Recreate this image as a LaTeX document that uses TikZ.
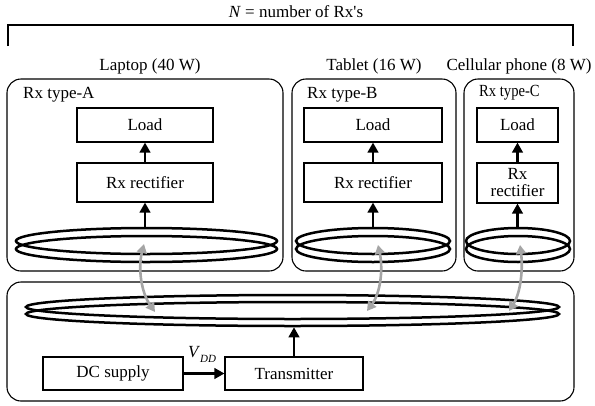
\documentclass[tikz,border=0pt]{standalone}
\usepackage{fontspec}
\setmainfont{Liberation Serif}
\usetikzlibrary{arrows.meta,shapes.geometric}
\definecolor{arrgray}{RGB}{165,165,165}
\begin{document}
\begin{tikzpicture}[x=1pt,y=-1pt,
  every node/.style={font=\fontsize{17}{17}\selectfont, inner sep=0pt},
  grp/.style={draw, line width=1.1pt, rounded corners=14pt},
  blk/.style={draw, line width=1.1pt, align=center},
  coil/.style={draw, ellipse, line width=2.5pt},
  arr/.style={line width=2.4pt, -{Triangle[length=10pt,width=10.5pt]}},
  garr/.style={line width=2.6pt, draw=arrgray, {Triangle[length=9pt,width=10pt]}-{Triangle[length=9pt,width=10pt]}},
  lbl/.style={anchor=center}]
\useasboundingbox (0,0) rectangle (595,405);

% top bracket and title
\node[lbl] (title) at (296,12) {\textit{N} = number of Rx\textquotesingle s};
\coordinate (brl) at (8,46);
\coordinate (brr) at (573,46);
\draw[line width=1.4pt] (brl) -- (8,25) -- (573,25) -- (brr);

% device labels
\node[lbl] (labA) at (150,66) {Laptop (40 W)};
\node[lbl] (labB) at (374,66) {Tablet (16 W)};
\node[lbl] (labC) at (519,66) {Cellular phone (8 W)};

% receiver groups
\node[grp, minimum width=276pt, minimum height=192pt] (gA) at (145,175) {};
\node[grp, minimum width=164pt, minimum height=192pt] (gB) at (374,175) {};
\node[grp, minimum width=110pt, minimum height=192pt] (gC) at (519,175) {};
\node[anchor=west] (tA) at (23,95) {Rx type-A};
\node[anchor=west] (tB) at (307,95) {Rx type-B};
\node[anchor=west] (tC) at (479,93) {\scalebox{0.86}[1]{Rx type-C}};

% transmitter group
\node[grp, minimum width=567pt, minimum height=119pt] (gT) at (290.5,341.5) {};

% blocks
\node[blk, minimum width=136pt, minimum height=34pt] (ldA) at (145,125) {Load};
\node[blk, minimum width=136pt, minimum height=39pt] (rA) at (145,182.5) {Rx rectifier};
\node[blk, minimum width=138pt, minimum height=34pt] (ldB) at (373,125) {Load};
\node[blk, minimum width=138pt, minimum height=39pt] (rB) at (373,182.5) {Rx rectifier};
\node[blk, minimum width=81pt, minimum height=34pt] (ldC) at (517.5,125) {Load};
\node[blk, minimum width=81pt, minimum height=40pt] (rC) at (517.5,183) {Rx\\rectifier};
\node[blk, minimum width=140pt, minimum height=33pt] (dc) at (113,373.5) {DC supply};
\node[blk, minimum width=138pt, minimum height=33pt] (tx) at (294,373.5) {Transmitter};

% coils
\node[coil, minimum width=261pt, minimum height=26pt] (cA1) at (146.5,241) {};
\node[coil, minimum width=261pt, minimum height=26pt] (cA2) at (146.5,249) {};
\node[coil, minimum width=154pt, minimum height=26pt] (cB1) at (373,241) {};
\node[coil, minimum width=154pt, minimum height=26pt] (cB2) at (373,249) {};
\node[coil, minimum width=104pt, minimum height=26pt] (cC1) at (518,241) {};
\node[coil, minimum width=104pt, minimum height=26pt] (cC2) at (518,249) {};
\node[coil, minimum width=533pt, minimum height=24pt] (cT1) at (292.5,307) {};
\node[coil, minimum width=533pt, minimum height=24pt] (cT2) at (292.5,314) {};

% black arrows
\draw[arr] (rA.north) -- (ldA.south);
\draw[arr] (rB.north) -- (ldB.south);
\draw[arr] (rC.north) -- (ldC.south);
\draw[arr] (rA.south |- cA1.north) -- (rA.south);
\draw[arr] (rB.south |- cB1.north) -- (rB.south);
\draw[arr] (rC.south |- cC1.north) -- (rC.south);
\draw[arr] (tx.north) -- (tx.north |- cT2.south);
\draw[arr] (dc.east) -- (tx.west);
\node (vdd) at (202,354) {\textit{V}\raisebox{-5pt}{\fontsize{11}{12}\selectfont\textit{DD}}};

% coupling arrows
\coordinate (gaA1) at (144,244);
\coordinate (gaA2) at (155,312);
\coordinate (gaB1) at (378,245);
\coordinate (gaB2) at (367,311);
\coordinate (gaC1) at (520,245);
\coordinate (gaC2) at (509,311);
\draw[garr] (gaA1) .. controls (138,268) and (141,292) .. (gaA2);
\draw[garr] (gaB1) .. controls (383,268) and (381,292) .. (gaB2);
\draw[garr] (gaC1) .. controls (523,268) and (521,292) .. (gaC2);
\end{tikzpicture}
\end{document}
